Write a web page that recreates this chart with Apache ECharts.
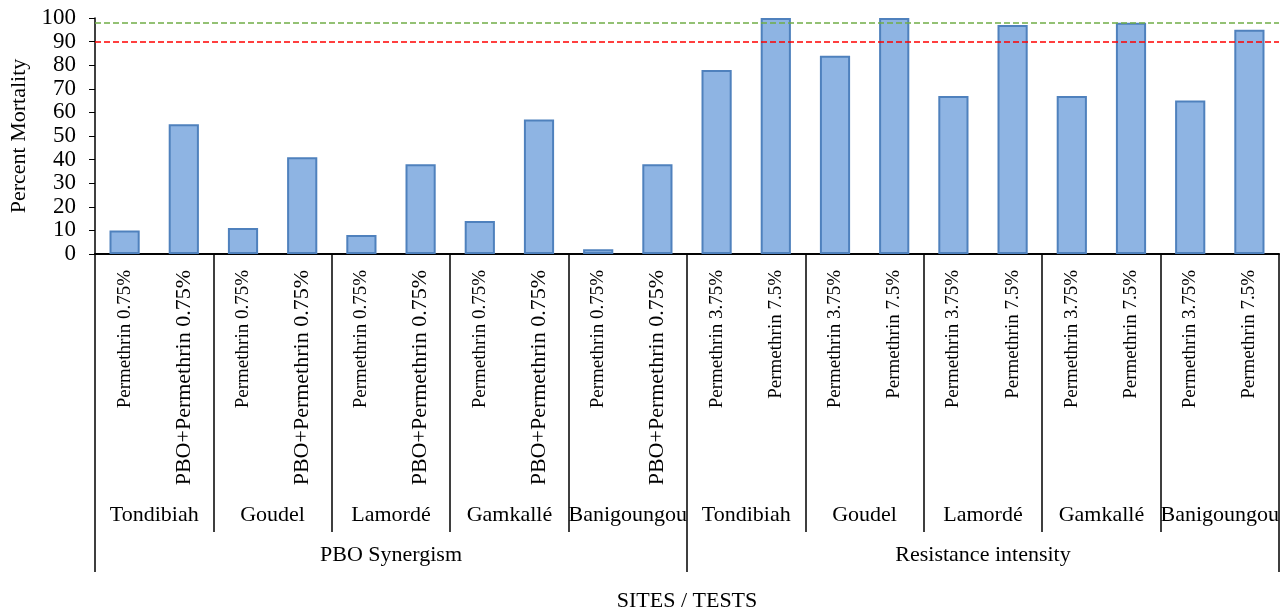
<!DOCTYPE html>
<html>
<head>
<meta charset="utf-8">
<script src="https://cdn.jsdelivr.net/npm/echarts@6/dist/echarts.min.js"></script>
<style>
  html, body { margin: 0; padding: 0; background: #fff; }
  #main { width: 1288px; height: 615px; }
</style>
</head>
<body>
<div id="main"></div>
<script>
// data
const tests = [
  "Permethrin 0.75%", "PBO+Permethrin 0.75%",
  "Permethrin 0.75%", "PBO+Permethrin 0.75%",
  "Permethrin 0.75%", "PBO+Permethrin 0.75%",
  "Permethrin 0.75%", "PBO+Permethrin 0.75%",
  "Permethrin 0.75%", "PBO+Permethrin 0.75%",
  "Permethrin 3.75%", "Permethrin 7.5%",
  "Permethrin 3.75%", "Permethrin 7.5%",
  "Permethrin 3.75%", "Permethrin 7.5%",
  "Permethrin 3.75%", "Permethrin 7.5%",
  "Permethrin 3.75%", "Permethrin 7.5%"
];
const sites = [
  "Tondibiah", "Goudel", "Lamordé", "Gamkallé", "Banigoungou",
  "Tondibiah", "Goudel", "Lamordé", "Gamkallé", "Banigoungou"
];
const groups = ["PBO Synergism", "Resistance intensity"];
const mortality = [10, 55, 11, 41, 8, 38, 14, 57, 2, 38,
                   78, 100, 84, 100, 67, 97, 67, 98, 65, 95];
const thresholds = [98, 90]; // green, red

const font = "'Liberation Serif', 'Times New Roman', serif";

const myChart = echarts.init(document.getElementById("main"), null, { renderer: "canvas" });

// shared look for the stacked category axes
function levelAxis(data, tickLen, labelMargin, extra) {
  return Object.assign({
    type: "category",
    data: data,
    position: "bottom",
    axisLine: { show: true, lineStyle: { color: "#000", width: 1.5 } },
    axisTick: {
      show: true,
      length: tickLen,
      lineStyle: { color: "#000", width: 1.5 }
    },
    axisLabel: {
      interval: 0,
      margin: labelMargin,
      fontFamily: font,
      fontSize: 22,
      color: "#000"
    },
    splitLine: { show: false }
  }, extra || {});
}

myChart.setOption({
  animation: false,
  grid: { left: 95, right: 9, top: 18, bottom: 361, containLabel: false },
  xAxis: [
    // rotated test labels, no ticks inside a site pair
    levelAxis(tests, 0, 16, {
      axisTick: { show: false },
      axisLabel: {
        interval: 0, rotate: 90, margin: 16,
        fontFamily: font, color: "#000",
        // the PBO labels are drawn wider in the source figure
        formatter: (name) => name.indexOf("PBO") === 0 ? `{big|${name}}` : `{norm|${name}}`,
        rich: {
          big: { fontFamily: font, fontSize: 22, color: "#000" },
          norm: { fontFamily: font, fontSize: 19, color: "#000" }
        }
      }
    }),
    // sites
    levelAxis(sites, 278, 250),
    // groups + axis title
    levelAxis(groups, 318, 290, {
      name: "SITES / TESTS",
      nameLocation: "middle",
      nameGap: 336,
      nameTextStyle: { fontFamily: font, fontSize: 22, color: "#000" }
    })
  ],
  yAxis: {
    type: "value",
    min: 0,
    max: 100,
    interval: 10,
    name: "Percent Mortality",
    nameLocation: "middle",
    nameGap: 64,
    nameTextStyle: { fontFamily: font, fontSize: 22, color: "#000" },
    axisLine: { show: true, lineStyle: { color: "#000", width: 1.5 } },
    axisTick: { show: true, length: 6, lineStyle: { color: "#000" } },
    axisLabel: { fontFamily: font, fontSize: 23, color: "#000", margin: 19 },
    splitLine: { show: false }
  },
  series: [
    {
      type: "bar",
      data: mortality,
      xAxisIndex: 0,
      barWidth: "51%",
      itemStyle: { color: "#8EB4E3", borderColor: "#4F81BD", borderWidth: 2 },
      markLine: {
        silent: true,
        symbol: "none",
        label: { show: false },
        data: [
          { yAxis: thresholds[0], lineStyle: { color: "#70AD47", type: [6, 3], width: 1.5 } },
          { yAxis: thresholds[1], lineStyle: { color: "#FF0000", type: [6, 3], width: 1.5 } }
        ]
      }
    }
  ]
});
</script>
</body>
</html>
